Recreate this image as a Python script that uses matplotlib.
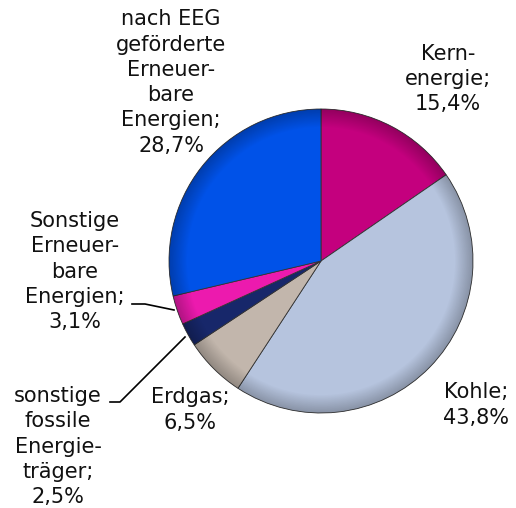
import matplotlib
matplotlib.use("Agg")
import matplotlib.pyplot as plt
import numpy as np

labels = ["Kern-\nenergie;\n15,4%", "Kohle;\n43,8%", "Erdgas;\n6,5%",
          "sonstige\nfossile\nEnergie-\nträger;\n2,5%",
          "Sonstige\nErneuer-\nbare\nEnergien;\n3,1%",
          "nach EEG\ngeförderte\nErneuer-\nbare\nEnergien;\n28,7%"]
values = [15.4, 43.8, 6.5, 2.5, 3.1, 28.7]
colors = ["#C4007E", "#B6C4DE", "#C2B6AC", "#17276A", "#EC1AAE", "#0052E8"]

W, H = 516, 508
fig = plt.figure(figsize=(W / 100, H / 100), dpi=100)
cx, cy, r = 321, 261, 152
ax = fig.add_axes([(cx - r) / W, (H - cy - r) / H, 2 * r / W, 2 * r / H])

wedges, _ = ax.pie(values, colors=colors, startangle=90, counterclock=False,
                   radius=1, wedgeprops=dict(edgecolor="#333333", linewidth=0.6))
ax.set_xlim(-1, 1)
ax.set_ylim(-1, 1)
ax.set_aspect("equal")
ax.axis("off")

# subtle shading to mimic bevel
n = 300
yy, xx = np.mgrid[-1:1:n * 1j, -1:1:n * 1j]
rr = np.sqrt(xx ** 2 + yy ** 2)
shade = np.zeros((n, n, 4))
shade[..., 3] = np.clip((rr - 0.88) / 0.12, 0, 1) * 0.25
im = ax.imshow(shade, extent=(-1, 1, -1, 1), origin="lower", zorder=3)
im.set_clip_path(plt.Circle((0, 0), 1, transform=ax.transData))
ax.set_xlim(-1, 1)
ax.set_ylim(-1, 1)

def px(x, y):
    return x / W, 1 - y / H

fs = 15
# (center x, first-line y) in pixels
text_pos = [(448, 53), (476, 392), (190, 397), (58, 395), (75, 220), (171, 18)]
for lab, (x, y) in zip(labels, text_pos):
    nl = lab.count("\n")
    yc = y + nl * 25.8 / 2
    fig.text(*px(x, yc), lab, ha="center", va="center", fontsize=fs,
             family="DejaVu Sans", linespacing=1.33, color="#111111")

# leader lines
fig.lines.append(plt.Line2D([132 / W, 145 / W, 174 / W],
                            [1 - 304 / H, 1 - 304 / H, 1 - 310 / H],
                            transform=fig.transFigure, color="black", lw=1.2))
fig.lines.append(plt.Line2D([110 / W, 120 / W, 185 / W],
                            [1 - 402 / H, 1 - 402 / H, 1 - 337 / H],
                            transform=fig.transFigure, color="black", lw=1.2))

fig.savefig("out.png", dpi=100)
